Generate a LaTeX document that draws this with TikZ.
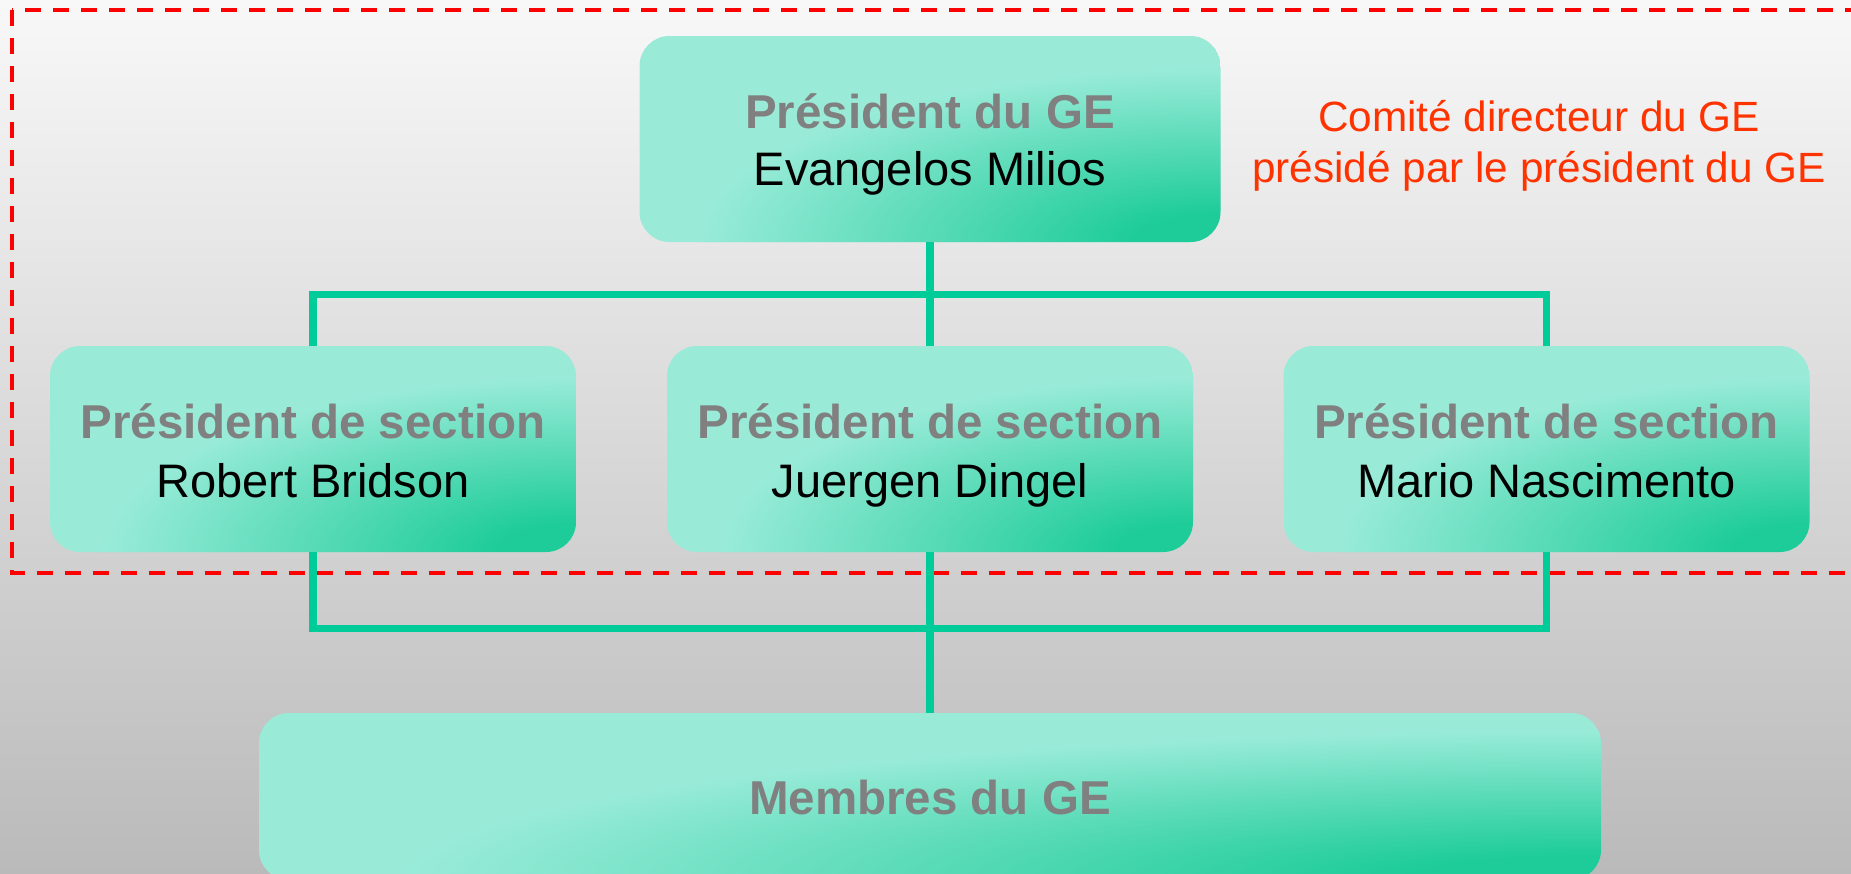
\documentclass[tikz,border=0pt]{standalone}
\usepackage{fontspec}
\setmainfont{Liberation Sans}
\definecolor{glight}{HTML}{99EBD8}
\definecolor{gdark}{HTML}{1DCC99}
\definecolor{connc}{HTML}{00CC99}
\definecolor{bgtop}{HTML}{F8F8F8}
\definecolor{bgbot}{HTML}{BABABA}
\definecolor{titlegrey}{HTML}{808080}
\definecolor{dashred}{HTML}{FF0000}
\definecolor{notered}{HTML}{FF3300}
\pgfdeclareradialshading{cornerglow}{\pgfpointorigin}{color(0bp)=(gdark); color(4bp)=(gdark); color(25bp)=(glight); color(50bp)=(glight)}
\tikzset{
  gbox/.style n args={4}{rectangle, rounded corners=30pt, inner sep=0pt,
    minimum width=#1pt, minimum height=#2pt,
    path picture={
      \fill[glight] (path picture bounding box.south west) rectangle (path picture bounding box.north east);
      \shade[shading=cornerglow] (path picture bounding box.south east) ellipse [x radius=#3pt, y radius=#4pt];
    }},
  conn/.style={draw=connc, line width=7.5pt},
  ttl/.style={anchor=base, inner sep=0pt, text=titlegrey, font=\fontsize{47.5}{57}\selectfont\bfseries},
  nm/.style={anchor=base, inner sep=0pt, text=black, font=\fontsize{47}{57}\selectfont},
  note/.style={anchor=base, inner sep=0pt, text=notered, font=\fontsize{42.3}{51}\selectfont},
  committee/.style={draw=dashred, line width=4pt, dash pattern=on 16pt off 12pt},
}
\begin{document}
\begin{tikzpicture}[x=1pt,y=-1pt]
\useasboundingbox (0,0) rectangle (1851,873);
\clip (0,0) rectangle (1851,873);
\shade[top color=bgtop, bottom color=bgbot] (0,0) rectangle (1851,873);
% committee frame
\draw[committee] (11.5,10) rectangle (1885,573);
% boxes
\node[gbox={581}{206}{523}{175}] (top) at (930,139) {};
\node[gbox={526}{206}{473}{175}] (s1) at (313,449) {};
\node[gbox={526}{206}{473}{175}] (s2) at (930,449) {};
\node[gbox={526}{206}{473}{175}] (s3) at (1546.5,449) {};
\node[gbox={1342}{167}{1200}{150}] (bot) at (930,796.5) {};
% connectors
\coordinate (upbar) at (930,294.5);
\coordinate (lowbar) at (930,628.5);
\draw[conn] (top.south) -- (s2.north);
\draw[conn] (s1.north) |- (upbar) -| (s3.north);
\draw[conn] (s1.south) |- (lowbar) -| (s3.south);
\draw[conn] (s2.south) -- (bot.north);
% texts
\node[ttl] (toptitle) at (930,128) {Président du GE};
\node[nm] (topname) at (930,185) {Evangelos Milios};
\node[ttl] (s1title) at (313,438) {Président de section};
\node[nm] (s1name) at (313,497) {Robert Bridson};
\node[ttl] (s2title) at (930,438) {Président de section};
\node[nm] (s2name) at (930,497) {Juergen Dingel};
\node[ttl] (s3title) at (1546.5,438) {Président de section};
\node[nm] (s3name) at (1546.5,497) {Mario Nascimento};
\node[ttl] (bottitle) at (930,814) {Membres du GE};
\node[note] (note1) at (1539,131) {Comité directeur du GE};
\node[note] (note2) at (1539,182) {présidé par le président du GE};
\end{tikzpicture}
\end{document}
